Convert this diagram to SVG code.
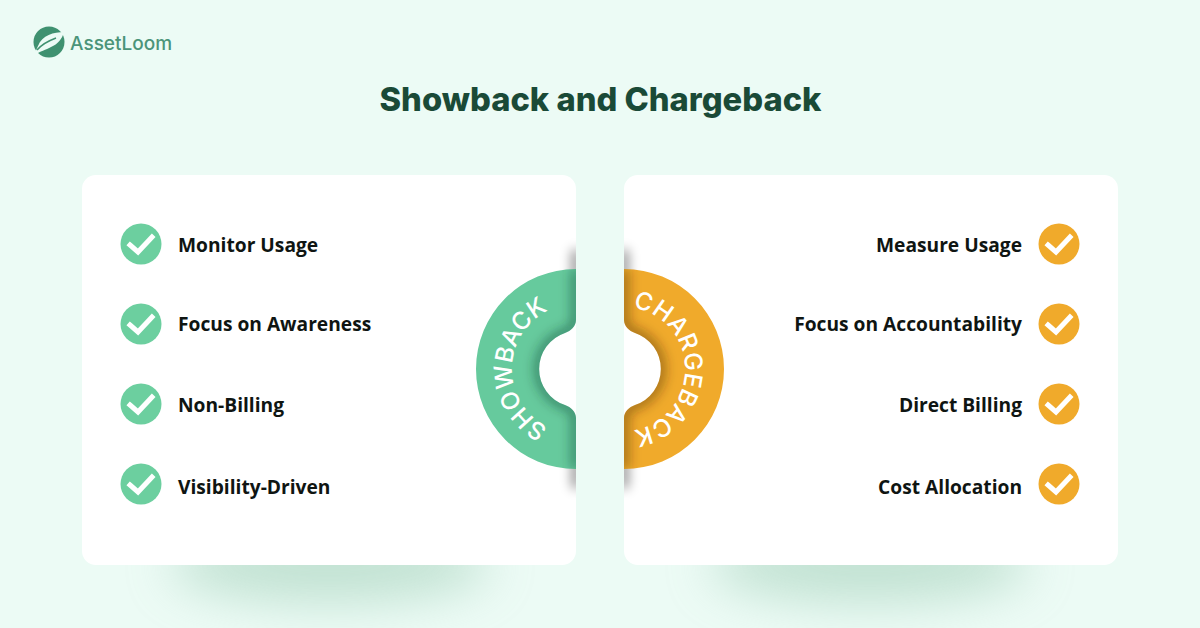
<svg xmlns="http://www.w3.org/2000/svg" width="1200" height="628" viewBox="0 0 1200 628">
<style>
.lbl{font-family:"Open Sans","Liberation Sans",sans-serif;font-weight:700;font-size:19.2px;fill:#0f1512}
.r{text-anchor:end}
.chk{fill:none;stroke:#fff;stroke-width:5;stroke-linecap:square;stroke-linejoin:miter}
.g{fill:#6ccf9f}.o{fill:#f0aa2b}
.arc{font-family:"Inter","Liberation Sans",sans-serif;font-size:24.5px;font-weight:500;fill:#fff;text-anchor:middle}
</style>
<defs>
<filter id="b30" x="-50%" y="-100%" width="200%" height="300%"><feGaussianBlur stdDeviation="24"/></filter>
<filter id="b6" x="-300%" y="-20%" width="700%" height="140%"><feGaussianBlur stdDeviation="6"/></filter>
<filter id="b7" x="-50%" y="-50%" width="200%" height="200%"><feGaussianBlur stdDeviation="6"/></filter>
<clipPath id="cl"><rect x="540" y="235" width="36" height="36"/><rect x="540" y="467" width="36" height="36"/></clipPath>
<clipPath id="cr"><rect x="624" y="235" width="36" height="36"/><rect x="624" y="467" width="36" height="36"/></clipPath>
<path id="ringL" d="M576,269A100,100 0 0 0 576,469L576,418C576,412 571,407 565,405A38,38 0 0 1 565,333C571,331 576,326 576,320Z"/>
<path id="ringR" d="M624,269A100,100 0 0 1 624,469L624,418C624,412 629,407 635,405A38,38 0 0 0 635,333C629,331 624,326 624,320Z"/>
<clipPath id="crl"><use href="#ringL"/></clipPath>
<clipPath id="crr"><use href="#ringR"/></clipPath>
<path id="tl" d="M609.5,425.3A65,65 0 1 1 609.5,312.7"/>
<path id="tr" d="M592,315.3A62,62 0 1 1 592,422.7"/>
</defs>
<rect width="1200" height="628" fill="#ecfbf5"/>
<g id="logo">
<circle cx="49" cy="42" r="15.5" fill="#3f9170"/>
<path d="M64,32C54,32 42,35 38,46C36,50 35,53 35,55C40,51 46,50 51,47C58,44 62,39 64,32Z" fill="#ecfbf5"/>
<path d="M37,50C42,44 48,41 56,38" fill="none" stroke="#3f9170" stroke-width="1.5"/>
<text x="70" y="49.5" style="font-family:Inter,'Liberation Sans',sans-serif;font-size:19px;font-weight:500;fill:#4b9479">AssetLoom</text>
</g>
<text id="title" x="600.5" y="111" text-anchor="middle" style="font-family:Inter,'Liberation Sans',sans-serif;font-size:33px;font-weight:800;fill:#1a4a37" textLength="442" lengthAdjust="spacingAndGlyphs">Showback and Chargeback</text>
<ellipse cx="330" cy="565" rx="160" ry="38" fill="#9fcdb6" opacity=".55" filter="url(#b30)"/>
<ellipse cx="870" cy="565" rx="160" ry="38" fill="#9fcdb6" opacity=".55" filter="url(#b30)"/>
<g id="card-showback">
<rect x="82" y="175" width="494" height="390" rx="14" fill="#fff"/>
<g clip-path="url(#cl)"><rect x="572" y="250" width="8" height="238" fill="#000" opacity=".5" filter="url(#b6)"/></g>
<path d="M576,269A100,100 0 0 0 576,469L576,418C576,412 571,407 565,405A38,38 0 0 1 565,333C571,331 576,326 576,320Z" fill="#66ca9d"/>
<g clip-path="url(#crl)"><path d="M576,269V320C576,326 571,331 565,333A38,38 0 0 0 565,405C571,407 576,412 576,418V469" fill="none" stroke="#0c3a28" stroke-opacity=".5" stroke-width="9" filter="url(#b7)"/></g>
<text class="arc"><textPath href="#tl" startOffset="50%">SHOWBACK</textPath></text>
</g>
<g id="card-chargeback">
<rect x="624" y="175" width="494" height="390" rx="14" fill="#fff"/>
<g clip-path="url(#cr)"><rect x="620" y="250" width="8" height="238" fill="#000" opacity=".5" filter="url(#b6)"/></g>
<path d="M624,269A100,100 0 0 1 624,469L624,418C624,412 629,407 635,405A38,38 0 0 0 635,333C629,331 624,326 624,320Z" fill="#f0aa2b"/>
<g clip-path="url(#crr)"><path d="M624,269V320C624,326 629,331 635,333A38,38 0 0 1 635,405C629,407 624,412 624,418V469" fill="none" stroke="#3d2500" stroke-opacity=".5" stroke-width="9" filter="url(#b7)"/></g>
<text class="arc" style="letter-spacing:.5px"><textPath href="#tr" startOffset="50%">CHARGEBACK</textPath></text>
</g>
<g id="s1"><circle class="g" cx="141" cy="244" r="20.5"/><path class="chk" d="M130,245L138,252L152,237"/><text class="lbl" x="178" y="252">Monitor Usage</text></g>
<g id="s2"><circle class="g" cx="141" cy="324" r="20.5"/><path class="chk" d="M130,325L138,332L152,317"/><text class="lbl" x="178" y="331">Focus on Awareness</text></g>
<g id="s3"><circle class="g" cx="141" cy="404" r="20.5"/><path class="chk" d="M130,405L138,412L152,397"/><text class="lbl" x="178" y="412">Non-Billing</text></g>
<g id="s4"><circle class="g" cx="141" cy="484" r="20.5"/><path class="chk" d="M130,485L138,492L152,477"/><text class="lbl" x="178" y="494">Visibility-Driven</text></g>
<g id="c1"><circle class="o" cx="1059" cy="244" r="20.5"/><path class="chk" d="M1048,245L1056,252L1070,237"/><text class="lbl r" x="1022" y="252">Measure Usage</text></g>
<g id="c2"><circle class="o" cx="1059" cy="324" r="20.5"/><path class="chk" d="M1048,325L1056,332L1070,317"/><text class="lbl r" x="1022" y="331">Focus on Accountability</text></g>
<g id="c3"><circle class="o" cx="1059" cy="404" r="20.5"/><path class="chk" d="M1048,405L1056,412L1070,397"/><text class="lbl r" x="1022" y="412">Direct Billing</text></g>
<g id="c4"><circle class="o" cx="1059" cy="484" r="20.5"/><path class="chk" d="M1048,485L1056,492L1070,477"/><text class="lbl r" x="1022" y="494">Cost Allocation</text></g>
</svg>
